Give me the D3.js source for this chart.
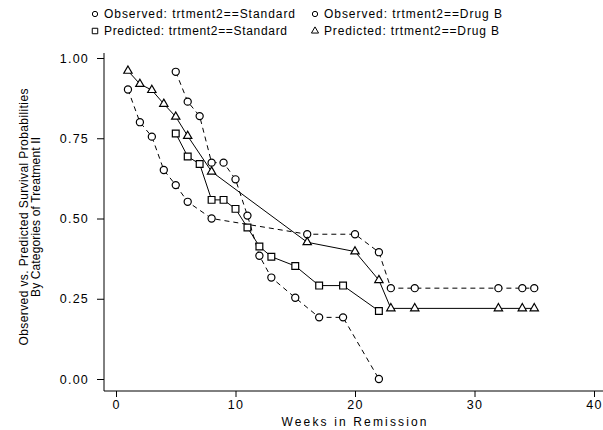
<!DOCTYPE html>
<html>
<head>
<meta charset="utf-8">
<script src="https://cdn.jsdelivr.net/npm/d3@7"></script>
<style>
  body { margin: 0; background: #fff; }
  svg { display: block; font-family: "Liberation Sans", Arial, Helvetica, sans-serif; }
</style>
</head>
<body>
<div id="chart"></div>
<script>
// survival data
var stdTime = [5, 6, 7, 8, 9, 10, 11, 12, 13, 15, 17, 19, 22];
var stdObserved = [0.957, 0.864, 0.819, 0.674, 0.674, 0.622, 0.509, 0.384, 0.316, 0.253, 0.192, 0.192, 0.0];
var stdPredicted = [0.765, 0.693, 0.670, 0.558, 0.558, 0.530, 0.472, 0.413, 0.381, 0.352, 0.291, 0.291, 0.212];

var drugTime = [1, 2, 3, 4, 5, 6, 8, 16, 20, 22, 23, 25, 32, 34, 35];
var drugObserved = [0.902, 0.800, 0.755, 0.651, 0.604, 0.552, 0.500, 0.451, 0.451, 0.395, 0.283, 0.283, 0.283, 0.283, 0.283];
var drugPredicted = [0.960, 0.919, 0.900, 0.857, 0.817, 0.757, 0.646, 0.426, 0.397, 0.308, 0.220, 0.220, 0.220, 0.220, 0.220];

var xTicks = [0, 10, 20, 30, 40];
var yTicks = [0, 0.25, 0.5, 0.75, 1];
var legendLabels = [
  "Observed: trtment2==Standard", "Observed: trtment2==Drug B",
  "Predicted: trtment2==Standard", "Predicted: trtment2==Drug B"
];

var width = 603, height = 430;
var fmt = d3.format(".2f");

var svg = d3.select("#chart").append("svg")
  .attr("width", width)
  .attr("height", height);

var x = d3.scaleLinear().domain([0, 40]).range([116, 594]);
var y = d3.scaleLinear().domain([0, 1]).range([379, 58]);

// axes
var yAxis = svg.append("g")
  .attr("transform", "translate(104,0)")
  .call(d3.axisLeft(y).tickValues(yTicks).tickFormat(fmt).tickSize(7).tickPadding(8));
var xAxis = svg.append("g")
  .attr("transform", "translate(0,391)")
  .call(d3.axisBottom(x).tickValues(xTicks).tickSize(6).tickPadding(3));

[xAxis, yAxis].forEach(function(a) {
  a.select(".domain").remove();
  a.selectAll("line").attr("stroke", "#000");
  a.selectAll("text").attr("fill", "#000")
    .style("font-size", "12.5px")
    .style("letter-spacing", "1.2px")
    .style("font-family", "'Liberation Sans', Arial, sans-serif");
});

svg.append("line").attr("x1", 104).attr("x2", 104).attr("y1", 53).attr("y2", 391).attr("stroke", "#000");
svg.append("line").attr("x1", 104).attr("x2", 603).attr("y1", 391).attr("y2", 391).attr("stroke", "#000");

// axis titles
svg.append("text")
  .attr("x", 354).attr("y", 426)
  .attr("text-anchor", "middle")
  .attr("textLength", 145).attr("lengthAdjust", "spacing")
  .style("font-size", "12px")
  .text("Weeks in Remission");

var ytitle = svg.append("g").attr("transform", "translate(0,217) rotate(-90)");
ytitle.append("text")
  .attr("x", 0).attr("y", 28)
  .attr("text-anchor", "middle")
  .attr("textLength", 257).attr("lengthAdjust", "spacing")
  .style("font-size", "12px")
  .text("Observed vs. Predicted Survival Probabilities");
ytitle.append("text")
  .attr("x", 0).attr("y", 40)
  .attr("text-anchor", "middle")
  .attr("textLength", 160).attr("lengthAdjust", "spacing")
  .style("font-size", "12px")
  .text("By Categories of Treatment II");

// series
var series = [
  { t: stdTime, s: stdObserved, sym: d3.symbolCircle, size: 40, dash: "5,4" },
  { t: drugTime, s: drugObserved, sym: d3.symbolCircle, size: 40, dash: "5,4" },
  { t: stdTime, s: stdPredicted, sym: d3.symbolSquare, size: 46, dash: null },
  { t: drugTime, s: drugPredicted, sym: d3.symbolTriangle, size: 30, dash: null }
];

var line = d3.line().x(function(d) { return x(d[0]); }).y(function(d) { return y(d[1]); });

series.forEach(function(ser) {
  var pts = ser.t.map(function(t, i) { return [t, ser.s[i]]; });
  svg.append("path")
    .datum(pts)
    .attr("d", line)
    .attr("fill", "none")
    .attr("stroke", "#000")
    .attr("stroke-width", 1)
    .attr("stroke-dasharray", ser.dash);
  svg.selectAll(null)
    .data(pts)
    .enter()
    .append("path")
    .attr("d", d3.symbol().type(ser.sym).size(ser.size))
    .attr("transform", function(d) { return "translate(" + x(d[0]) + "," + y(d[1]) + ")"; })
    .attr("fill", "#fff")
    .attr("stroke", "#000")
    .attr("stroke-width", 1.2);
});

// legend
var legSyms = [d3.symbolCircle, d3.symbolCircle, d3.symbolSquare, d3.symbolTriangle];
var legSizes = [22, 22, 30, 22];
var legLen = [191, 178, 183, 175];
legendLabels.forEach(function(lbl, i) {
  var col = i % 2, row = Math.floor(i / 2);
  var sx = col === 0 ? 95 : 315;
  var ly = row === 0 ? 14 : 31;
  svg.append("path")
    .attr("d", d3.symbol().type(legSyms[i]).size(legSizes[i]))
    .attr("transform", "translate(" + sx + "," + ly + ")")
    .attr("fill", "#fff")
    .attr("stroke", "#000");
  svg.append("text")
    .attr("x", sx + 9).attr("y", ly + 4)
    .attr("textLength", legLen[i]).attr("lengthAdjust", "spacing")
    .style("font-size", "12px")
    .text(lbl);
});
</script>
</body>
</html>
